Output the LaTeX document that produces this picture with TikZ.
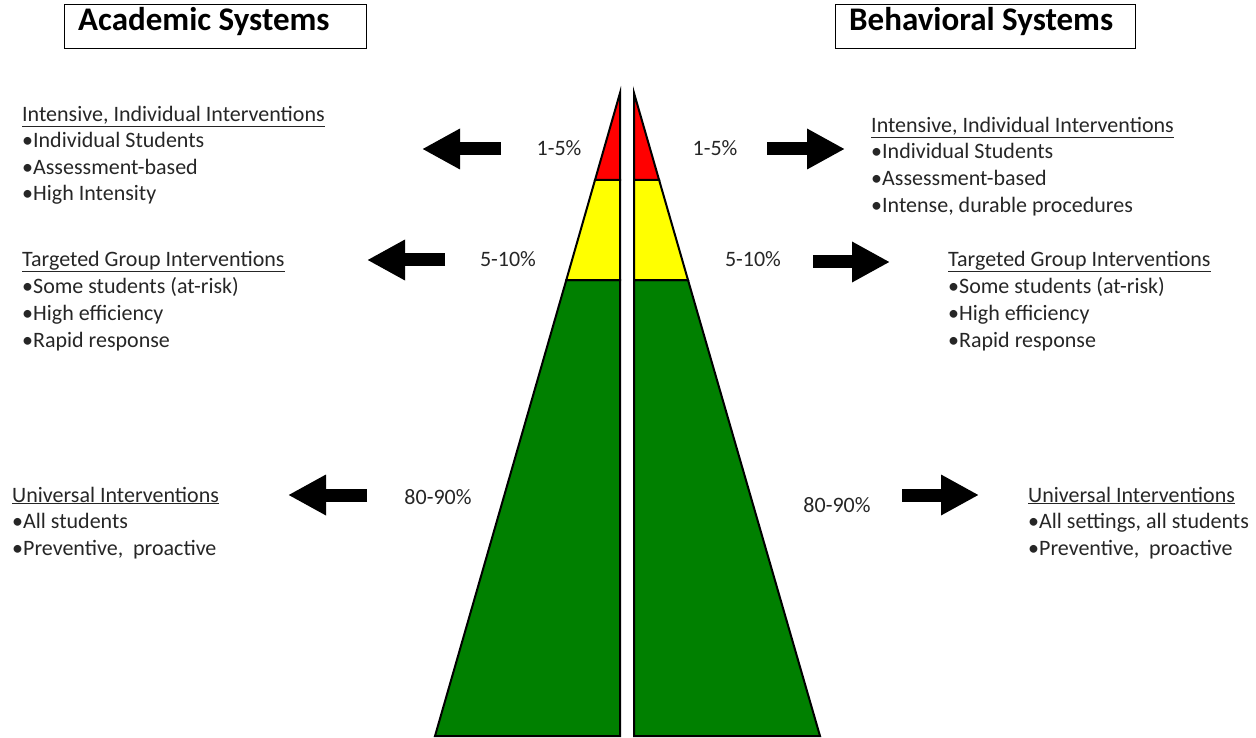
\documentclass[tikz,border=0pt]{standalone}
\usepackage{fontspec}
\setmainfont{Carlito}
\usetikzlibrary{arrows.meta}
\definecolor{tred}{RGB}{255,0,0}
\definecolor{tyellow}{RGB}{255,255,0}
\definecolor{tgreen}{RGB}{0,128,0}
\definecolor{txt}{RGB}{38,38,38}
\begin{document}
\begin{tikzpicture}[x=1pt,y=-1pt,
  tier/.style={draw=black,line width=2pt,line join=miter},
  ln/.style={anchor=base west,inner sep=0pt,font=\fontsize{22}{24}\selectfont,text=txt},
  pct/.style={anchor=base,inner sep=0pt,font=\fontsize{22}{24}\selectfont,text=txt},
  title/.style={draw=black,line width=1.2pt,inner sep=0pt,minimum height=44pt},
  titletext/.style={anchor=base west,inner sep=0pt,font=\bfseries\fontsize{33}{35}\selectfont},
  blockarrow/.style={line width=13pt,-{Triangle[length=38pt,width=38pt]}}]
\useasboundingbox (0,0) rectangle (1256,738);
% titles
\node[title,anchor=north west,minimum width=302pt] (tA) at (64,4) {};
\node[titletext] (tAt) at (78,31) {Academic Systems};
\node[title,anchor=north west,minimum width=300pt] (tB) at (835,4) {};
\node[titletext] (tBt) at (849,31) {Behavioral Systems};
% pyramid left
\filldraw[tier,fill=tgreen] (566.3,280) -- (435,736) -- (620,736) -- (620,280) -- cycle;
\filldraw[tier,fill=tyellow] (595,180) -- (566.3,280) -- (620,280) -- (620,180) -- cycle;
\filldraw[tier,fill=tred] (620,93) -- (595,180) -- (620,180) -- cycle;
% pyramid right
\filldraw[tier,fill=tgreen] (688,280) -- (820,736) -- (634,736) -- (634,280) -- cycle;
\filldraw[tier,fill=tyellow] (659.1,180) -- (688,280) -- (634,280) -- (634,180) -- cycle;
\filldraw[tier,fill=tred] (634,93) -- (659.1,180) -- (634,180) -- cycle;
% percentages
\node[pct] (p1l) at (559,156) {1-5\%};
\node[pct] (p2l) at (508,267) {5-10\%};
\node[pct] (p3l) at (438,504) {80-90\%};
\node[pct] (p1r) at (715,156) {1-5\%};
\node[pct] (p2r) at (753,267) {5-10\%};
\node[pct] (p3r) at (837,512) {80-90\%};
% arrows
\coordinate (a1s) at (501,149); \coordinate (a1e) at (422,149);
\coordinate (a2s) at (445,260); \coordinate (a2e) at (367,260);
\coordinate (a3s) at (367,495); \coordinate (a3e) at (288,495);
\coordinate (b1s) at (767,149); \coordinate (b1e) at (845,149);
\coordinate (b2s) at (813,262); \coordinate (b2e) at (890,262);
\coordinate (b3s) at (902,495); \coordinate (b3e) at (979,495);
\draw[blockarrow] (a1s) -- (a1e);
\draw[blockarrow] (a2s) -- (a2e);
\draw[blockarrow] (a3s) -- (a3e);
\draw[blockarrow] (b1s) -- (b1e);
\draw[blockarrow] (b2s) -- (b2e);
\draw[blockarrow] (b3s) -- (b3e);
% left texts
\node[ln] (l1h) at (22,122) {\underline{Intensive, Individual Interventions}};
\node[ln] (l1a) at (22,148) {•Individual Students};
\node[ln] (l1b) at (22,175) {•Assessment-based};
\node[ln] (l1c) at (22,201) {•High Intensity};
\node[ln] (l2h) at (22,266) {\underline{Targeted Group Interventions}};
\node[ln] (l2a) at (22,293) {•Some students (at-risk)};
\node[ln] (l2b) at (22,320) {•High efficiency};
\node[ln] (l2c) at (22,347) {•Rapid response};
\node[ln] (l3h) at (12,502) {\underline{Universal Interventions}};
\node[ln] (l3a) at (12,528) {•All students};
\node[ln] (l3b) at (12,555) {•Preventive,\ \ proactive};
% right texts
\node[ln] (r1h) at (871,133) {\underline{Intensive, Individual Interventions}};
\node[ln] (r1a) at (871,159) {•Individual Students};
\node[ln] (r1b) at (871,186) {•Assessment-based};
\node[ln] (r1c) at (871,213) {•Intense, durable procedures};
\node[ln] (r2h) at (948,266) {\underline{Targeted Group Interventions}};
\node[ln] (r2a) at (948,293) {•Some students (at-risk)};
\node[ln] (r2b) at (948,320) {•High efficiency};
\node[ln] (r2c) at (948,347) {•Rapid response};
\node[ln] (r3h) at (1028,502) {\underline{Universal Interventions}};
\node[ln] (r3a) at (1028,528) {•All settings, all students};
\node[ln] (r3b) at (1028,555) {•Preventive,\ \ proactive};
\end{tikzpicture}
\end{document}
